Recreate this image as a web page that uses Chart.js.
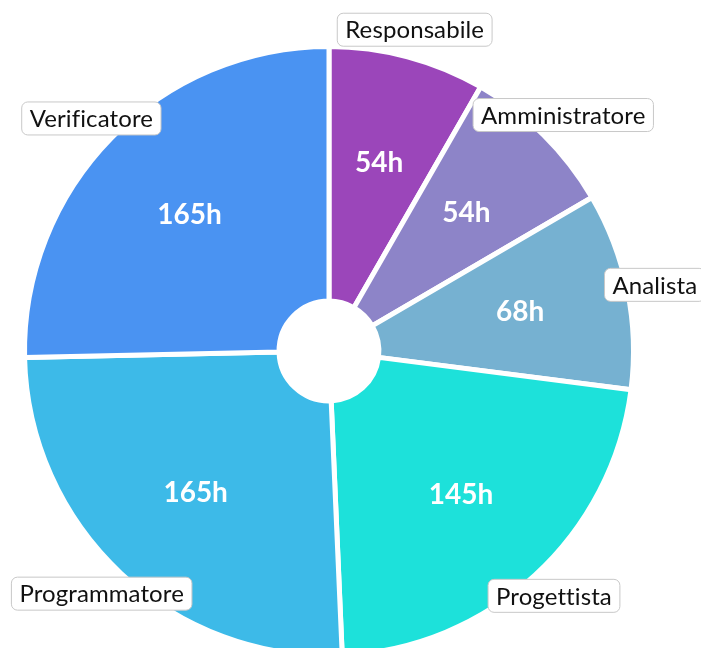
<!DOCTYPE html>
<html>
<head>
<meta charset="utf-8">
<script src="https://cdn.jsdelivr.net/npm/chart.js@4"></script>
<style>
  html, body { margin: 0; padding: 0; background: #fff; overflow: hidden; }
  canvas { display: block; }
</style>
</head>
<body>
<canvas id="ruoli" width="701" height="700"></canvas>
<script>
const ruoli = ["Responsabile", "Amministratore", "Analista", "Progettista", "Programmatore", "Verificatore"];
const ore = [54, 54, 68, 145, 165, 165];
const colori = ["#9B46BA", "#8D84C8", "#76B1D1", "#1DE1DA", "#3DBAE8", "#4A93F2"];

// etichette: valore dentro la fetta, nome nel riquadro fuori
const etichette = {
  id: "etichette",
  afterDatasetsDraw(chart) {
    const ctx = chart.ctx;
    const meta = chart.getDatasetMeta(0);
    meta.data.forEach((arc, i) => {
      const p = arc.getProps(["x", "y", "startAngle", "endAngle", "innerRadius", "outerRadius"], true);
      const a = (p.startAngle + p.endAngle) / 2;
      const rv = p.innerRadius + 0.57 * (p.outerRadius - p.innerRadius);

      ctx.save();
      ctx.textAlign = "center";
      ctx.textBaseline = "middle";
      ctx.fillStyle = "#fff";
      ctx.font = "bold 28px Lato";
      ctx.fillText(ore[i] + "h", p.x + Math.cos(a) * rv, p.y + Math.sin(a) * rv);

      const rl = p.outerRadius + 28;
      const cx = p.x + Math.cos(a) * rl;
      const cy = p.y + Math.sin(a) * rl;
      ctx.font = "24px Lato";
      ctx.letterSpacing = "0.1px"; // niente legatura "fi"
      const w = ctx.measureText(ruoli[i]).width + 17;
      const h = 34;
      ctx.beginPath();
      ctx.roundRect(cx - w / 2 + 0.5, cy - h / 2 + 0.5, w - 1, h - 1, 6);
      ctx.fillStyle = "#fff";
      ctx.fill();
      ctx.lineWidth = 1;
      ctx.strokeStyle = "#c8c8c8";
      ctx.stroke();
      ctx.fillStyle = "#111";
      ctx.fillText(ruoli[i], cx, cy + 1);
      ctx.restore();
    });
  }
};

new Chart(document.getElementById("ruoli"), {
  type: "doughnut",
  data: {
    labels: ruoli,
    datasets: [{
      data: ore,
      backgroundColor: colori,
      borderColor: "#fff",
      borderWidth: 5,
      hoverBorderWidth: 5,
      hoverOffset: 0
    }]
  },
  options: {
    responsive: false,
    animation: false,
    cutout: "16.4%",
    layout: { padding: { left: 22, right: 65, top: 44, bottom: 42 } },
    plugins: {
      legend: { display: false },
      tooltip: { enabled: false }
    }
  },
  plugins: [etichette]
});
</script>
</body>
</html>
